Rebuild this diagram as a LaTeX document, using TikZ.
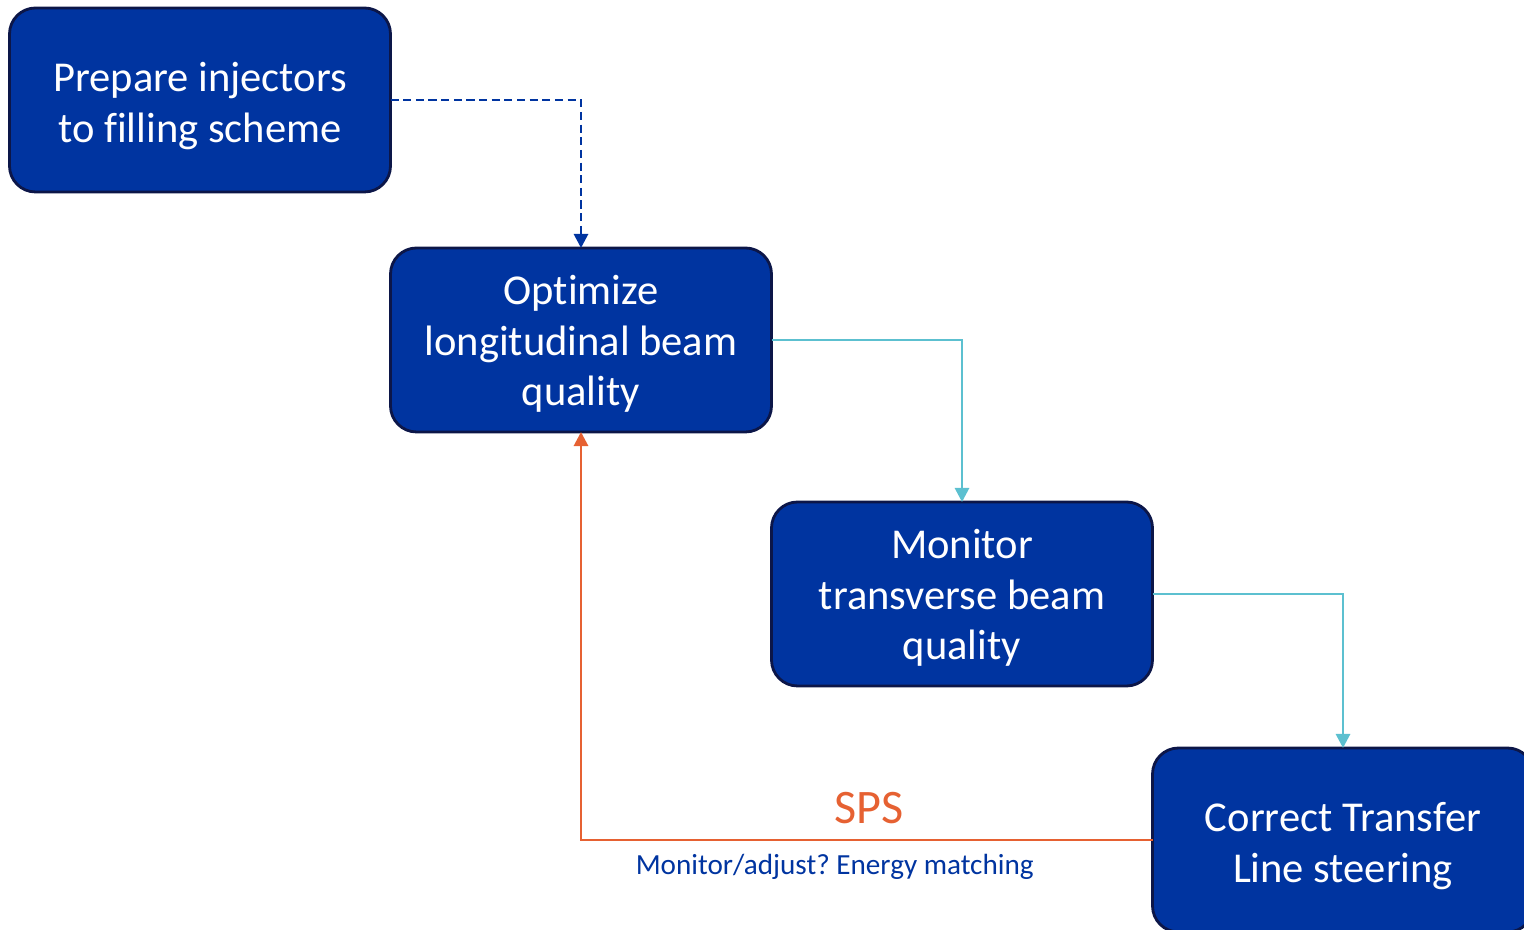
\documentclass[tikz,border=0pt]{standalone}
\usepackage{fontspec}
\setmainfont[Ligatures={NoCommon}]{Carlito}
\usepackage{xcolor}
\usetikzlibrary{positioning,arrows.meta}
\definecolor{StepBlue}{RGB}{0,52,160}
\definecolor{StepEdge}{RGB}{12,22,72}
\definecolor{LinkCyan}{RGB}{92,192,208}
\definecolor{LoopOrange}{RGB}{230,97,50}
\tikzset{%
	stepbox/.style={rectangle, rounded corners=0.26cm, draw=StepEdge, line width=0.8pt,
		fill=StepBlue, text=white, align=center, outer sep=0pt,
		minimum width=3.81cm, minimum height=1.84cm, inner sep=0pt,
		font=\fontsize{12.1}{14.5}\selectfont},
	prep/.style={draw=StepBlue, dashed, dash pattern=on 2.3pt off 1.3pt, line width=0.8pt},
	flow/.style={draw=LinkCyan, line width=0.8pt},
	loop/.style={draw=LoopOrange, line width=0.8pt},
}
\frenchspacing
\begin{document}
\begin{tikzpicture}[
    -{Triangle[width=4pt,length=4pt]},
    node distance=0.56cm and 0cm]

    \clip (0,0) rectangle (15.24,9.30);
    \useasboundingbox (0,0) rectangle (15.24,9.30);

    \node [stepbox] (Prepare) at (2.00,8.30) {\rule{0pt}{11.5pt}Prepare injectors\\to filling scheme};
    \node [stepbox] (Longit) [below right=0.56cm and 0cm of Prepare] {\rule{0pt}{10.5pt}Optimize\\longitudinal beam\\quality};
    \node [stepbox] (Transv) [below right=0.70cm and 0cm of Longit] {\rule{0pt}{10.5pt}Monitor\\transverse beam\\quality};
    \node [stepbox] (Steer) [below right=0.62cm and 0cm of Transv] {\rule{0pt}{11.5pt}Correct Transfer\\Line steering};

    \path [prep] (Prepare.east) -| (Longit.north);
    \path [flow] (Longit.east) -| (Transv.north);
    \path [flow] (Transv.east) -| (Steer.north);
    \path [loop] (Steer.west) -| (Longit.south)
        node [pos=0.25, above=1pt, xshift=0.02cm, text=LoopOrange, font=\fontsize{13.7}{16}\selectfont] {SPS}
        node [pos=0.25, below=0.3pt, xshift=-0.32cm, text=StepBlue, font=\fontsize{8.3}{10}\selectfont] {Monitor/adjust? Energy matching};

\end{tikzpicture}
\end{document}
